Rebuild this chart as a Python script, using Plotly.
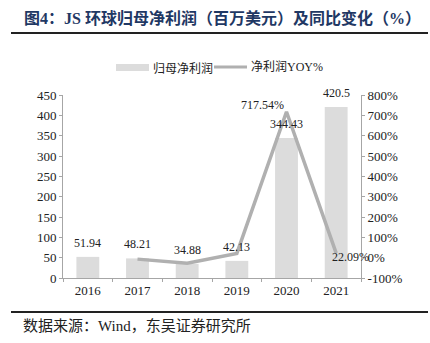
import plotly.graph_objects as go

# Data
years = ["2016", "2017", "2018", "2019", "2020", "2021"]
net_profit = [51.94, 48.21, 34.88, 42.13, 344.43, 420.5]        # 百万美元
yoy_years = ["2017", "2018", "2019", "2020", "2021"]
yoy_pct = [-7.18, -27.65, 20.79, 717.54, 22.09]                  # %

left_ticks = list(range(0, 451, 50))
right_ticks = list(range(-100, 801, 100))
right_ticktext = [f"{v}%" for v in right_ticks]

SERIF = "Liberation Serif, Noto Sans CJK SC"
CJK = "Noto Sans CJK SC"
BAR_C = "#DCDCDC"
LINE_C = "#B0B0B0"
AXIS_C = "#A6A6A6"

# plot area in pixels (430x343 canvas)
L, R, T, B = 63, 361, 95, 278
W, H = R - L, B - T


def px(x):
    return (x - L) / W


def py(y):
    return (B - y) / H


def cat(label):
    # category axis position of a year label
    return years.index(label)


fig = go.Figure()

fig.add_trace(go.Bar(
    x=years, y=net_profit, name="归母净利润",
    marker=dict(color=BAR_C, line=dict(width=0)),
    width=0.46, showlegend=False,
))

fig.add_trace(go.Scatter(
    x=yoy_years, y=yoy_pct, name="净利润YOY%", yaxis="y2",
    mode="lines", line=dict(color=LINE_C, width=3.5),
    showlegend=False,
))

# bar value labels
for yr, v in zip(years, net_profit):
    fig.add_annotation(x=cat(yr), y=v, xref="x", yref="y",
                       text=str(v), showarrow=False,
                       yanchor="bottom", yshift=5,
                       font=dict(family=SERIF, size=12, color="#222"))

# YOY value labels
fig.add_annotation(x=cat(yoy_years[3]), y=yoy_pct[3], xref="x", yref="y2",
                   text=f"{yoy_pct[3]:.2f}%", showarrow=False,
                   xshift=-24, yshift=7,
                   font=dict(family=SERIF, size=12, color="#222"))
fig.add_annotation(x=cat(yoy_years[4]), y=yoy_pct[4], xref="x", yref="y2",
                   text=f"{yoy_pct[4]:.2f}%", showarrow=False,
                   xanchor="left", xshift=-6, yshift=-4,
                   font=dict(family=SERIF, size=12, color="#222"))

# title, rules and source note
fig.add_annotation(x=px(22), y=py(18), xref="paper", yref="paper",
                   xanchor="left", yanchor="middle", showarrow=False,
                   text="<b>图4：JS 环球归母净利润（百万美元）及同比变化（%）</b>",
                   font=dict(family="Liberation Serif, Noto Sans CJK SC", size=16, color="#1F3864"))
fig.add_shape(type="line", xref="paper", yref="paper",
              x0=px(11), x1=px(428), y0=py(33), y1=py(33),
              line=dict(color="#222", width=2))
fig.add_shape(type="line", xref="paper", yref="paper",
              x0=px(11), x1=px(428), y0=py(312), y1=py(312),
              line=dict(color="#222", width=2))
fig.add_annotation(x=px(21), y=py(326), xref="paper", yref="paper",
                   xanchor="left", yanchor="middle", showarrow=False,
                   text="数据来源：Wind，东吴证券研究所",
                   font=dict(family=SERIF, size=15, color="#222"))

# legend
fig.add_shape(type="rect", xref="paper", yref="paper",
              x0=px(116), x1=px(149), y0=py(71), y1=py(64),
              fillcolor=BAR_C, line=dict(width=0))
fig.add_annotation(x=px(151), y=py(67), xref="paper", yref="paper",
                   xanchor="left", yanchor="middle", showarrow=False,
                   text="归母净利润", font=dict(family=CJK, size=12, color="#222"))
fig.add_shape(type="line", xref="paper", yref="paper",
              x0=px(214), x1=px(247), y0=py(67), y1=py(67),
              line=dict(color=LINE_C, width=3))
fig.add_annotation(x=px(249), y=py(67), xref="paper", yref="paper",
                   xanchor="left", yanchor="middle", showarrow=False,
                   text="净利润YOY%", font=dict(family=SERIF, size=12, color="#222"))

fig.update_layout(
    width=430, height=343,
    margin=dict(l=L, r=430 - R, t=T, b=343 - B),
    paper_bgcolor="white", plot_bgcolor="white",
    xaxis=dict(type="category", categoryorder="array", categoryarray=years,
               range=[-0.5, len(years) - 0.5],
               tickson="boundaries", ticks="outside",
               ticklen=3, tickcolor=AXIS_C, showline=True, linecolor=AXIS_C,
               linewidth=1, showgrid=False,
               tickfont=dict(family=SERIF, size=13, color="#222")),
    yaxis=dict(range=[0, 450], tickvals=left_ticks, ticks="outside",
               ticklen=3, tickcolor=AXIS_C, showline=True, linecolor=AXIS_C,
               linewidth=1, showgrid=False, zeroline=False,
               tickfont=dict(family=SERIF, size=13, color="#222")),
    yaxis2=dict(range=[-100, 800], overlaying="y", side="right",
                tickvals=right_ticks, ticktext=right_ticktext,
                ticks="outside", ticklen=3, tickcolor=AXIS_C,
                showline=True, linecolor=AXIS_C, linewidth=1,
                showgrid=False, zeroline=False,
                tickfont=dict(family=SERIF, size=13, color="#222")),
)

fig.write_html("out.html")
